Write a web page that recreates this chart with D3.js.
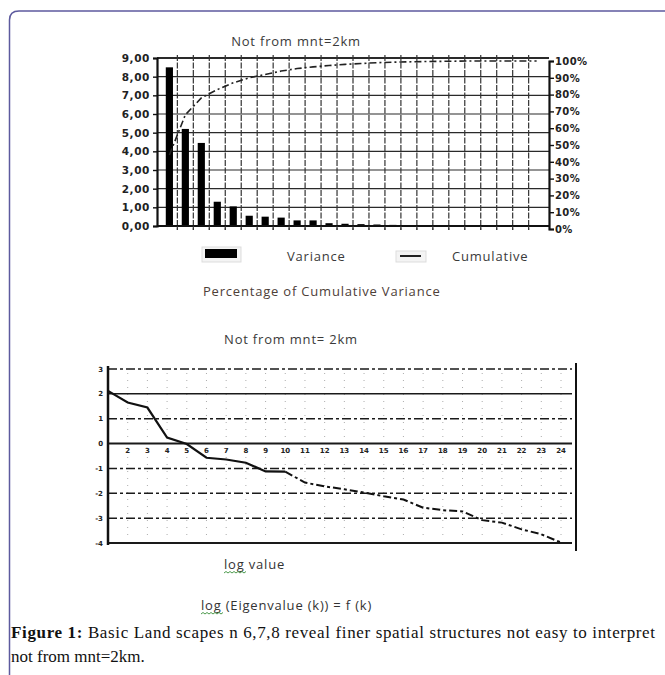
<!DOCTYPE html>
<html>
<head>
<meta charset="utf-8">
<script src="https://cdn.jsdelivr.net/npm/d3@7"></script>
<style>
  body { margin: 0; background: #fff; }
</style>
</head>
<body>
<div id="chart"></div>
<script>
// chart 1 : eigenvalue variance + cumulative %
var components = d3.range(1, 25);
var variance = [8.5, 5.2, 4.45, 1.3, 1.05, 0.55, 0.5, 0.45, 0.3, 0.3, 0.15, 0.12,
                0.1, 0.08, 0.06, 0.05, 0.04, 0.03, 0.03, 0.02, 0.02, 0.01, 0.01, 0.01];
var cumulative = [44, 68, 78, 83, 87, 90, 92, 94, 95.5, 96.5, 97.3, 98,
                  98.5, 99, 99.3, 99.5, 99.7, 99.8, 99.9, 100, 100, 100, 100, 100];
var leftTicks = [0, 1, 2, 3, 4, 5, 6, 7, 8, 9];
var rightTicks = [0, 10, 20, 30, 40, 50, 60, 70, 80, 90, 100];

// chart 2 : log(eigenvalue) = f(k)
var kValues = d3.range(1, 25);
var logValues = [2.12, 1.65, 1.45, 0.24, -0.02, -0.57, -0.64, -0.77, -1.12, -1.13, -1.57, -1.72,
                 -1.84, -1.97, -2.12, -2.25, -2.58, -2.68, -2.73, -3.08, -3.18, -3.45, -3.65, -3.98];
var logTicks = [3, 2, 1, 0, -1, -2, -3, -4];
var kTicks = d3.range(2, 25);

var W = 665, H = 675;
var svg = d3.select("#chart").append("svg")
    .attr("width", W)
    .attr("height", H)
    .style("display", "block");

svg.append("rect").attr("width", W).attr("height", H).attr("fill", "#fff");

// page frame (rounded corner top-left)
svg.append("path")
    .attr("d", "M9.5,675 V20 Q9.5,11 19,11 H665")
    .attr("fill", "none")
    .attr("stroke", "#5d5a9e")
    .attr("stroke-width", 1.5);

var comma = d3.formatLocale({decimal: ",", thousands: ".", grouping: [3], currency: ["", ""]}).format(".2f");

function label(sel) {
    return sel.attr("font-family", "Open Sans")
        .attr("font-size", "13px")
        .attr("letter-spacing", "0.8px")
        .attr("fill", "#3a3a3a");
}

// ---------------- chart 1 ----------------
var x1 = d3.scaleBand().domain(components).range([157, 549]).padding(0.55);
var y1 = d3.scaleLinear().domain([0, 9]).range([226, 58]);
var yR = d3.scaleLinear().domain([0, 100]).range([229, 61]);
var step = x1.step();
function edge(d) { return x1(d) - x1.paddingInner() * step / 2; }

var g1 = svg.append("g");

g1.append("text")
    .attr("x", 296).attr("y", 46)
    .attr("text-anchor", "middle")
    .call(label)
    .text("Not from mnt=2km");

// horizontal grid
g1.selectAll(".hgrid")
    .data(leftTicks.slice(1))
    .enter().append("line")
    .attr("x1", 157).attr("x2", 549)
    .attr("y1", function(d) { return y1(d); })
    .attr("y2", function(d) { return y1(d); })
    .attr("stroke", "#2a2a2a")
    .attr("stroke-width", function(d) { return d === 9 ? 1.8 : 1.2; });

// vertical grid (band boundaries)
g1.selectAll(".vgrid")
    .data(components.slice(1))
    .enter().append("line")
    .attr("x1", edge)
    .attr("x2", edge)
    .attr("y1", 55).attr("y2", 230)
    .attr("stroke", "#333")
    .attr("stroke-width", 1.2)
    .attr("stroke-dasharray", "6,1.5");

// bars
g1.selectAll(".bar")
    .data(variance)
    .enter().append("rect")
    .attr("x", function(d, i) { return x1(components[i]); })
    .attr("width", x1.bandwidth())
    .attr("y", function(d) { return y1(d); })
    .attr("height", function(d) { return y1(0) - y1(d); })
    .attr("fill", "#000");

// cumulative line
var cumLine = d3.line()
    .x(function(d, i) { return x1(components[i]) + x1.bandwidth() / 2; })
    .y(function(d) { return yR(d); });

g1.append("path")
    .datum(cumulative)
    .attr("d", cumLine)
    .attr("fill", "none")
    .attr("stroke", "#222")
    .attr("stroke-width", 1.6)
    .attr("stroke-dasharray", "7,3,2,3");

// axes
var leftAxis = d3.axisLeft(y1).tickValues(leftTicks).tickFormat(comma).tickSize(4);
var rightAxis = d3.axisRight(yR).tickValues(rightTicks).tickFormat(function(d) { return d + "%"; }).tickSize(5);

var la = g1.append("g").attr("transform", "translate(157,0)").call(leftAxis);
var ra = g1.append("g").attr("transform", "translate(549,0)").call(rightAxis);
[la, ra].forEach(function(a) {
    a.select(".domain").attr("stroke", "#111").attr("stroke-width", 2.2);
    a.selectAll(".tick line").attr("stroke", "#111").attr("stroke-width", 1.4);
    a.selectAll("text")
        .attr("font-family", "DejaVu Sans")
        .attr("font-weight", "bold")
        .attr("font-size", "10.5px")
        .attr("letter-spacing", "0.6px")
        .attr("fill", "#222");
});
la.selectAll("text").attr("x", -7);
ra.selectAll("text").attr("x", 6).attr("font-size", "10px").attr("letter-spacing", "0.4px");

// x baseline with small ticks
g1.append("line")
    .attr("x1", 157).attr("x2", 549)
    .attr("y1", y1(0)).attr("y2", y1(0))
    .attr("stroke", "#111").attr("stroke-width", 2.2);
g1.selectAll(".xtick")
    .data(components.slice(1))
    .enter().append("line")
    .attr("x1", edge)
    .attr("x2", edge)
    .attr("y1", y1(0)).attr("y2", y1(0) + 4)
    .attr("stroke", "#333").attr("stroke-width", 1);

// legend
g1.append("rect").attr("x", 202).attr("y", 247).attr("width", 39).attr("height", 15)
    .attr("fill", "#f4f4f4").attr("stroke", "#ddd");
g1.append("rect").attr("x", 205).attr("y", 249).attr("width", 32).attr("height", 9).attr("fill", "#000");
g1.append("text").attr("x", 287).attr("y", 261)
    .call(label)
    .text("Variance");
g1.append("rect").attr("x", 396).attr("y", 251).attr("width", 30).attr("height", 11)
    .attr("fill", "#f4f4f4").attr("stroke", "#ddd");
g1.append("line").attr("x1", 400).attr("x2", 421).attr("y1", 256).attr("y2", 256)
    .attr("stroke", "#222").attr("stroke-width", 2);
g1.append("text").attr("x", 452).attr("y", 261)
    .call(label)
    .text("Cumulative");

g1.append("text").attr("x", 203).attr("y", 296)
    .call(label)
    .attr("fill", "#4d4038")
    .text("Percentage of Cumulative Variance");

// ---------------- chart 2 ----------------
var x2 = d3.scaleLinear().domain([1, 24]).range([108, 561]);
var y2 = d3.scaleLinear().domain([-4, 3]).range([543, 369]);
var right2 = 576;

var g2 = svg.append("g");

g2.append("text")
    .attr("x", 291).attr("y", 344)
    .attr("text-anchor", "middle")
    .call(label)
    .text("Not from mnt= 2km");

// faint dotted verticals (scan residue of gridlines)
g2.selectAll(".vdot")
    .data(kValues.slice(1))
    .enter().append("line")
    .attr("x1", function(d) { return x2(d); })
    .attr("x2", function(d) { return x2(d); })
    .attr("y1", y2(3) + 4).attr("y2", y2(-4) - 3)
    .attr("stroke", "#777")
    .attr("stroke-width", 1)
    .attr("stroke-dasharray", "1,6")
    .attr("opacity", 0.6);

// horizontal lines
g2.selectAll(".hline")
    .data(logTicks)
    .enter().append("line")
    .attr("x1", x2(1)).attr("x2", right2 - 4)
    .attr("y1", function(d) { return y2(d); })
    .attr("y2", function(d) { return y2(d); })
    .attr("stroke", "#1a1a1a")
    .attr("stroke-width", function(d) { return (d === 0 || d === -4) ? 2 : 1.5; })
    .attr("stroke-dasharray", function(d) {
        return (d === 0 || d === 2 || d === -4) ? null : "9,3,3,3";
    });

// frame left + right
g2.append("line").attr("x1", x2(1)).attr("x2", x2(1)).attr("y1", y2(3) - 3).attr("y2", y2(-4) + 2)
    .attr("stroke", "#111").attr("stroke-width", 2.5);
g2.append("line").attr("x1", right2).attr("x2", right2).attr("y1", y2(3) - 6).attr("y2", y2(-4) + 8)
    .attr("stroke", "#111").attr("stroke-width", 2);

// y labels
g2.selectAll(".ylab")
    .data(logTicks)
    .enter().append("text")
    .attr("x", 103)
    .attr("y", function(d) { return y2(d) + 2.5; })
    .attr("text-anchor", "end")
    .attr("font-family", "DejaVu Sans")
    .attr("font-weight", "bold")
    .attr("font-size", "7px")
    .attr("fill", "#222")
    .text(function(d) { return d; });

// x labels under the zero line
g2.selectAll(".xlab")
    .data(kTicks)
    .enter().append("text")
    .attr("x", function(d) { return x2(d); })
    .attr("y", y2(0) + 9)
    .attr("text-anchor", "middle")
    .attr("font-family", "DejaVu Sans")
    .attr("font-weight", "bold")
    .attr("font-size", "7px")
    .attr("fill", "#222")
    .text(function(d) { return d; });

// log line : solid up to k=10 then dashed
var logLine = d3.line()
    .x(function(d) { return x2(d.k); })
    .y(function(d) { return y2(d.v); });
var pts = kValues.map(function(k, i) { return {k: k, v: logValues[i]}; });

g2.append("path")
    .datum(pts.slice(0, 10))
    .attr("d", logLine)
    .attr("fill", "none")
    .attr("stroke", "#111")
    .attr("stroke-width", 2.2);
g2.append("path")
    .datum(pts.slice(9))
    .attr("d", logLine)
    .attr("fill", "none")
    .attr("stroke", "#111")
    .attr("stroke-width", 2)
    .attr("stroke-dasharray", "8,3,3,3");

// captions with spell-check squiggle under "log"
function squiggle(x0, x1, y) {
    var d = "M" + x0 + "," + y;
    for (var x = x0, up = true; x < x1; x += 2, up = !up) {
        d += " L" + (x + 2) + "," + (up ? y - 1.5 : y);
    }
    return d;
}

function logCaption(x, y, rest) {
    var t = svg.append("text").attr("x", x).attr("y", y).call(label).attr("fill", "#333");
    t.append("tspan").text("log");
    t.append("tspan").text(rest);
    var w = t.select("tspan").node().getComputedTextLength();
    svg.append("path")
        .attr("d", squiggle(x, x + w, y + 4))
        .attr("fill", "none")
        .attr("stroke", "#4c9a4c")
        .attr("stroke-width", 1);
}
logCaption(224, 569, " value");
logCaption(201, 610, " (Eigenvalue (k)) = f (k)");

// figure caption
var cap = svg.append("text")
    .attr("x", 11).attr("y", 638)
    .attr("font-family", "Liberation Serif")
    .attr("font-size", "17px")
    .attr("textLength", 644)
    .attr("lengthAdjust", "spacing")
    .attr("fill", "#111");
cap.append("tspan").attr("font-weight", "bold").text("Figure 1:");
cap.append("tspan").text(" Basic Land scapes n 6,7,8 reveal finer spatial structures not easy to interpret");
svg.append("text")
    .attr("x", 11).attr("y", 662)
    .attr("font-family", "Liberation Serif")
    .attr("font-size", "17px")
    .attr("fill", "#111")
    .text("not from mnt=2km.");
</script>
</body>
</html>
